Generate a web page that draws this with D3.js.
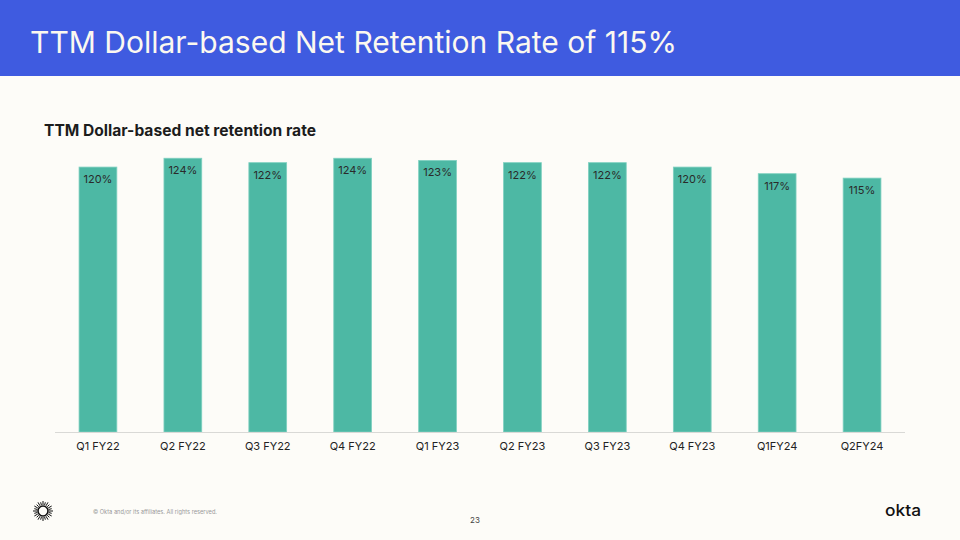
<!DOCTYPE html>
<html><head><meta charset="utf-8">
<script src="https://cdn.jsdelivr.net/npm/d3@7"></script>
<style>
html,body{margin:0;padding:0;background:#fdfcf8;}
svg{display:block;}
text{font-family:Inter,"Liberation Sans",sans-serif;}
</style></head>
<body><svg id="c" width="960" height="540"></svg>
<script>
const categories = ["Q1 FY22","Q2 FY22","Q3 FY22","Q4 FY22","Q1 FY23","Q2 FY23","Q3 FY23","Q4 FY23","Q1FY24","Q2FY24"];
const values = [120,124,122,124,123,122,122,120,117,115];
const valueLabels = ["120%","124%","122%","124%","123%","122%","122%","120%","117%","115%"];

const svg = d3.select("#c");
svg.append("rect").attr("width",960).attr("height",540).attr("fill","#fdfcf8");
svg.append("rect").attr("width",960).attr("height",76).attr("fill","#3f5be0");
svg.append("text").attr("x",30).attr("y",53).attr("fill","#fbf8f0")
  .attr("font-size",30).attr("textLength",647).attr("lengthAdjust","spacingAndGlyphs")
  .text("TTM Dollar-based Net Retention Rate of 115%");
svg.append("text").attr("x",44).attr("y",136).attr("fill","#1c1c1c")
  .attr("font-size",15.5).attr("font-weight",700).attr("textLength",272).attr("lengthAdjust","spacingAndGlyphs")
  .text("TTM Dollar-based net retention rate");

const x = d3.scaleBand().domain(categories).range([55.5,904.5]).paddingInner(0.555).paddingOuter(0.2775);
const y = d3.scaleLinear().domain([0,130]).range([432,145]);

svg.append("g").selectAll("rect").data(values).join("rect")
  .attr("x",(d,i)=>x(categories[i])).attr("width",x.bandwidth())
  .attr("y",d=>y(d)).attr("height",d=>y(0)-y(d))
  .attr("fill","#4db8a4").attr("stroke","#7fd0c0").attr("stroke-width",0.8);

svg.append("g").selectAll("text").data(values).join("text")
  .attr("x",(d,i)=>x(categories[i])+x.bandwidth()/2).attr("y",d=>y(d)+16)
  .attr("text-anchor","middle").attr("font-size",11).attr("fill","#2a2a2a")
  .text((d,i)=>valueLabels[i]);

const ax = svg.append("g").attr("transform","translate(0,432.5)")
  .call(d3.axisBottom(x).tickSize(0).tickPadding(10));
ax.select(".domain").attr("stroke","#d9d9d6").attr("stroke-width",1.2).attr("d","M55,0H905");
ax.selectAll("text").attr("font-size",11).attr("fill","#222").attr("font-family","Inter,'Liberation Sans',sans-serif");

// footer
const icon = svg.append("g").attr("transform","translate(43,511)");
icon.append("circle").attr("r",5).attr("fill","none").attr("stroke","#111").attr("stroke-width",1.6);
icon.selectAll("line").data(d3.range(24)).join("line")
  .attr("x1",d=>6*Math.cos(d*Math.PI/12)).attr("y1",d=>6*Math.sin(d*Math.PI/12))
  .attr("x2",d=>(d%2?9:10)*Math.cos(d*Math.PI/12)).attr("y2",d=>(d%2?9:10)*Math.sin(d*Math.PI/12))
  .attr("stroke","#111").attr("stroke-width",1);
svg.append("text").attr("x",93).attr("y",514).attr("font-size",5.5).attr("fill","#9a9a9a")
  .attr("textLength",124).attr("lengthAdjust","spacingAndGlyphs")
  .text("© Okta and/or its affiliates. All rights reserved.");
svg.append("text").attr("x",475).attr("y",523).attr("font-size",8).attr("fill","#444").attr("text-anchor","middle").text("23");
svg.append("text").attr("x",885).attr("y",516).attr("font-size",16).attr("font-weight",500).attr("fill","#111")
  .attr("textLength",36).attr("lengthAdjust","spacingAndGlyphs").text("okta");
</script></body></html>
